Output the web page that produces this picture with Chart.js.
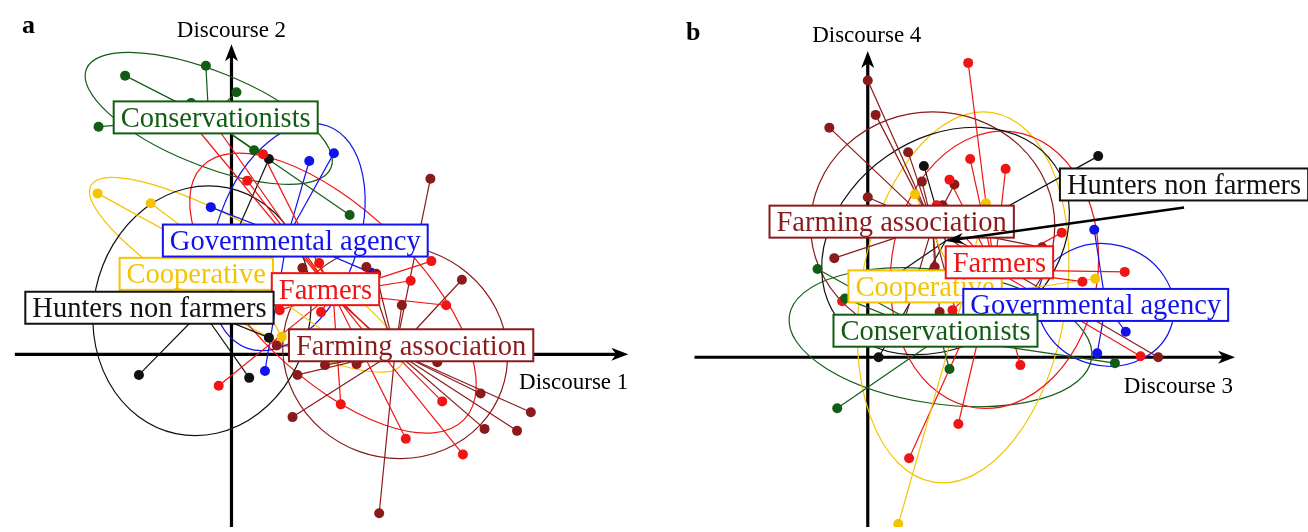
<!DOCTYPE html>
<html>
<head>
<meta charset="utf-8">
<script src="https://cdn.jsdelivr.net/npm/chart.js@4.4.1/dist/chart.umd.min.js"></script>
<style>
  html, body { margin: 0; padding: 0; background: #fff; }
  #wrap { position: relative; width: 1308px; height: 532px; overflow: hidden; }
  .panel { position: absolute; top: 0; width: 654px; height: 532px; }
</style>
</head>
<body>
<div id="wrap">
  <div class="panel" style="left:0"><canvas id="chartA" width="654" height="532"></canvas></div>
  <div class="panel" style="left:654px"><canvas id="chartB" width="654" height="532"></canvas></div>
</div>
<script>
// Stakeholder groups (same order in both panels)
const groupNames = ["Conservationists", "Cooperative", "Farmers", "Farming association", "Governmental agency", "Hunters non farmers"];

// ---- Panel a: respondent scores on Discourse 1 (x) and Discourse 2 (y) ----
const a_conservationists = [[-1.08, 2.84], [-0.26, 2.94], [0.05, 2.67], [-0.41, 2.56], [-1.35, 2.32], [0.23, 2.08], [1.20, 1.42]];
const a_cooperative = [[-1.36, 1.64], [-0.82, 1.54], [0.51, 0.18], [1.20, 0.66], [1.22, 0.03]];
const a_farmers = [[0.32, 2.04], [0.16, 1.77], [0.89, 0.93], [2.03, 0.95], [1.82, 0.75], [2.18, 0.50], [0.49, 0.45], [0.91, 0.43],
                   [-0.13, -0.32], [1.11, -0.51], [2.14, -0.48], [1.77, -0.86], [2.35, -1.02], [-0.40, 2.36], [-0.18, 2.36]];
const a_farmingAssociation = [[2.02, 1.79], [1.37, 0.89], [1.47, 0.82], [0.72, 0.88], [2.34, 0.76], [1.73, 0.50], [0.46, 0.09],
                              [0.95, -0.11], [1.27, -0.10], [0.67, -0.21], [2.09, -0.08], [2.53, -0.40], [3.04, -0.59],
                              [0.62, -0.64], [2.57, -0.76], [2.90, -0.78], [1.50, -1.62]];
const a_governmental = [[-0.21, 1.50], [0.79, 1.97], [1.04, 2.05], [0.02, 0.99], [0.34, -0.17], [1.42, 0.83]];
const a_hunters = [[0.38, 1.99], [-0.94, -0.21], [0.18, -0.24], [0.38, 0.17], [-1.50, 0.51]];
// dispersion ellipses per group: semi-axes and rotation (degrees)
const a_ellipseRx    = [1.34, 1.82, 1.85, 1.15, 1.20, 1.10];
const a_ellipseRy    = [0.48, 0.45, 0.85, 1.08, 0.72, 1.28];
const a_ellipseAngle = [-22, -30, -44, -20, 70, -12];

// ---- Panel b: respondent scores on Discourse 3 (x) and Discourse 4 (y) ----
const b_conservationists = [[-0.51, 0.90], [-0.23, 0.60], [0.83, -0.12], [-0.31, -0.52], [2.51, -0.06], [1.34, 0.29], [1.54, 0.34]];
const b_cooperative = [[0.48, 1.66], [1.20, 1.57], [2.31, 0.80], [0.31, -1.70], [0.54, 0.72]];
const b_farmers = [[1.02, 3.00], [1.04, 2.02], [0.83, 1.81], [1.40, 1.92], [0.70, 1.55], [1.97, 1.27], [2.61, 0.87],
                   [2.18, 0.77], [-0.26, 0.57], [0.86, 0.48], [2.77, 0.01], [1.55, -0.08], [0.92, -0.68], [0.42, -1.03]];
const b_farmingAssociation = [[0.00, 2.82], [0.08, 2.47], [-0.39, 2.34], [0.41, 2.09], [0.55, 1.79], [0.88, 1.76], [0.00, 1.63],
                              [0.76, 1.55], [-0.34, 1.01], [0.68, 0.92], [0.73, 0.46], [1.77, 1.12], [2.95, 0.00],
                              [1.19, 0.94], [0.34, 0.27], [0.94, 0.29]];
const b_governmental = [[2.30, 1.30], [2.62, 0.26], [2.33, 0.04]];
const b_hunters = [[0.57, 1.95], [2.34, 2.05], [0.11, 0.00], [0.14, 0.74]];
const b_ellipseRx    = [1.55, 1.90, 1.05, 1.24, 0.70, 1.35];
const b_ellipseRy    = [0.68, 1.05, 1.42, 1.16, 0.62, 1.05];
const b_ellipseAngle = [-8, 81, -8, 0, -15, 35];

// ---- styling ----
const groupColors = ["#135c13", "#f5c400", "#f01414", "#8b1a1a", "#1212ee", "#111111"];
const labelFont = '28.5px "Liberation Serif", "Times New Roman", serif';
const axisFont = '23px "Liberation Serif", "Times New Roman", serif';
const tagFont = 'bold 26px "Liberation Serif", "Times New Roman", serif';

function centroid(pts) {
  let sx = 0, sy = 0;
  pts.forEach(p => { sx += p[0]; sy += p[1]; });
  return [sx / pts.length, sy / pts.length];
}

const panelA = {
  tag: "a", tagPos: [22, 33],
  xRange: [-2.30, 4.24], yRange: [-1.76, 3.56],
  hAxis: [-2.20, 4.03], vAxis: [-1.76, 3.16],
  xTitle: "Discourse 1", yTitle: "Discourse 2",
  xTitleShift: [0, 35], yTitleShift: [0, -7],
  groups: [a_conservationists, a_cooperative, a_farmers, a_farmingAssociation, a_governmental, a_hunters],
  rx: a_ellipseRx, ry: a_ellipseRy, rot: a_ellipseAngle,
  // label box offset from the group centre, in pixels
  labelShift: [[7, -1], [-50, -1], [-7.5, -4], [16, -6.5], [8, 3.5], [-52.5, -3]],
  labelOrder: [0, 1, 2, 3, 4, 5],
  arrowFor: -1
};

const panelB = {
  tag: "b", tagPos: [32, 40],
  xRange: [-2.12, 4.42], yRange: [-1.73, 3.59],
  hAxis: [-1.76, 3.73], vAxis: [-1.73, 3.12],
  xTitle: "Discourse 3", yTitle: "Discourse 4",
  xTitleShift: [-2, 36], yTitleShift: [-1, -9],
  groups: [b_conservationists, b_cooperative, b_farmers, b_farmingAssociation, b_governmental, b_hunters],
  rx: b_ellipseRx, ry: b_ellipseRy, rot: b_ellipseAngle,
  labelShift: [[-5, -6.5], [-38, -11], [5, -7.5], [-41, -4], [-10, 0], [238.5, -56.5]],
  labelOrder: [1, 2, 4, 0, 3, 5],
  arrowFor: 5
};

function arrowHead(ctx, tx, ty, dx, dy, len, half) {
  const n = Math.hypot(dx, dy); dx /= n; dy /= n;
  const px = -dy, py = dx;
  ctx.beginPath();
  ctx.moveTo(tx, ty);
  ctx.lineTo(tx - dx * len + px * half, ty - dy * len + py * half);
  ctx.lineTo(tx - dx * len * 0.72, ty - dy * len * 0.72);
  ctx.lineTo(tx - dx * len - px * half, ty - dy * len - py * half);
  ctx.closePath();
  ctx.fill();
}

function makeDecor(panel) {
  return {
    id: 'decor' + panel.tag,
    beforeDatasetsDraw(chart) {
      const { ctx, scales: { x, y } } = chart;
      ctx.save();
      // axes through the origin
      const x0 = x.getPixelForValue(0), y0 = y.getPixelForValue(0);
      const hL = x.getPixelForValue(panel.hAxis[0]), hR = x.getPixelForValue(panel.hAxis[1]);
      const vB = y.getPixelForValue(panel.vAxis[0]), vT = y.getPixelForValue(panel.vAxis[1]);
      ctx.strokeStyle = "#000"; ctx.fillStyle = "#000"; ctx.lineWidth = 3.2;
      ctx.beginPath(); ctx.moveTo(hL, y0); ctx.lineTo(hR - 10, y0); ctx.stroke();
      ctx.beginPath(); ctx.moveTo(x0, vB); ctx.lineTo(x0, vT + 10); ctx.stroke();
      arrowHead(ctx, hR, y0, 1, 0, 17, 6.5);
      arrowHead(ctx, x0, vT, 0, -1, 17, 6.5);
      // axis titles and panel tag
      ctx.font = axisFont; ctx.textBaseline = "alphabetic";
      ctx.textAlign = "right";
      ctx.fillText(panel.xTitle, hR + panel.xTitleShift[0], y0 + panel.xTitleShift[1]);
      ctx.textAlign = "center";
      ctx.fillText(panel.yTitle, x0 + panel.yTitleShift[0], vT + panel.yTitleShift[1]);
      ctx.font = tagFont; ctx.textAlign = "left";
      ctx.fillText(panel.tag, panel.tagPos[0], panel.tagPos[1]);
      // dispersion ellipses around group centres
      ctx.lineWidth = 1.2;
      panel.groups.forEach((pts, i) => {
        const c = centroid(pts);
        const cx = x.getPixelForValue(c[0]), cy = y.getPixelForValue(c[1]);
        const rx = Math.abs(x.getPixelForValue(c[0] + panel.rx[i]) - cx);
        const ry = Math.abs(y.getPixelForValue(c[1] + panel.ry[i]) - cy);
        ctx.strokeStyle = groupColors[i];
        ctx.beginPath();
        ctx.ellipse(cx, cy, rx, ry, -panel.rot[i] * Math.PI / 180, 0, Math.PI * 2);
        ctx.stroke();
      });
      ctx.restore();
    },
    afterDatasetsDraw(chart) {
      const { ctx, scales: { x, y } } = chart;
      ctx.save();
      ctx.font = labelFont;
      ctx.textAlign = "center"; ctx.textBaseline = "alphabetic";
      panel.labelOrder.forEach(i => {
        const c = centroid(panel.groups[i]);
        const cx = x.getPixelForValue(c[0]), cy = y.getPixelForValue(c[1]);
        const lx = cx + panel.labelShift[i][0], ly = cy + panel.labelShift[i][1];
        const w = ctx.measureText(groupNames[i]).width + 14, h = 32;
        ctx.fillStyle = "#fff";
        ctx.fillRect(lx - w / 2, ly - h / 2, w, h);
        ctx.lineWidth = 2; ctx.strokeStyle = groupColors[i];
        ctx.strokeRect(lx - w / 2, ly - h / 2, w, h);
        ctx.fillStyle = groupColors[i];
        ctx.fillText(groupNames[i], lx, ly + 9.5);
        if (i === panel.arrowFor) {
          const sx = lx, sy = ly + 23;
          ctx.strokeStyle = "#000"; ctx.fillStyle = "#000"; ctx.lineWidth = 2.6;
          const dx = cx - sx, dy = cy - sy, n = Math.hypot(dx, dy);
          ctx.beginPath(); ctx.moveTo(sx, sy);
          ctx.lineTo(cx - dx / n * 12, cy - dy / n * 12); ctx.stroke();
          arrowHead(ctx, cx, cy, dx, dy, 18, 5.5);
          ctx.font = labelFont;
        }
      });
      ctx.restore();
    }
  };
}

function buildDatasets(panel) {
  const ds = [];
  panel.groups.forEach((pts, i) => {
    const c = centroid(pts);
    const col = groupColors[i];
    // star segments from group centre to each respondent
    pts.forEach(p => {
      ds.push({
        type: 'scatter', data: [{ x: c[0], y: c[1] }, { x: p[0], y: p[1] }],
        showLine: true, borderColor: col, borderWidth: 1.2, pointRadius: 0, order: 2
      });
    });
    ds.push({
      type: 'scatter', data: pts.map(p => ({ x: p[0], y: p[1] })),
      showLine: false, pointRadius: 5, pointBackgroundColor: col,
      pointBorderColor: col, pointBorderWidth: 0, order: 1
    });
  });
  return ds;
}

function makeChart(id, panel) {
  return new Chart(document.getElementById(id), {
    type: 'scatter',
    data: { datasets: buildDatasets(panel) },
    options: {
      responsive: false, animation: false, devicePixelRatio: 1, events: [],
      layout: { padding: 0 },
      plugins: { legend: { display: false }, tooltip: { enabled: false } },
      scales: {
        x: { type: 'linear', min: panel.xRange[0], max: panel.xRange[1], display: false },
        y: { type: 'linear', min: panel.yRange[0], max: panel.yRange[1], display: false }
      }
    },
    plugins: [makeDecor(panel)]
  });
}

makeChart('chartA', panelA);
makeChart('chartB', panelB);
</script>
</body>
</html>
